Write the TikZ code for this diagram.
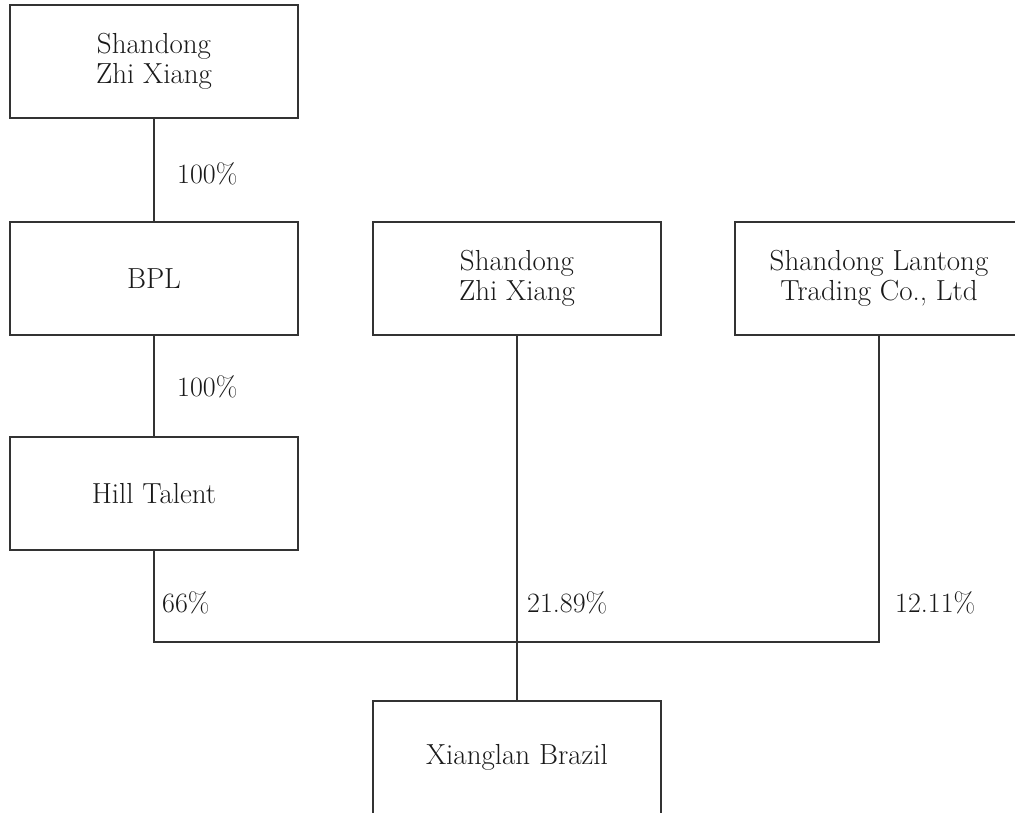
\documentclass[tikz,border=0pt]{standalone}
\usepackage{fontspec}
\begin{document}
\begin{tikzpicture}[x=1pt,y=-1pt,
  ent/.style={draw=black!80, line width=1.2pt, rectangle, minimum width=288pt, minimum height=113pt, inner sep=0pt, align=center, font=\fontsize{29}{30}\selectfont, text=black!90},
  conn/.style={draw=black!80, line width=1.2pt},
  pct/.style={anchor=west, inner sep=0pt, font=\fontsize{28}{30}\selectfont, text=black!90}]
\useasboundingbox (0,0) rectangle (1015,812);
\clip (0,0) rectangle (1015,812);
\node[ent] (sz1) at (154,61.5) {Shandong\\Zhi Xiang};
\node[ent] (bpl) at (154,278.5) {BPL};
\node[ent] (hill) at (154,493.5) {Hill Talent};
\node[ent] (sz2) at (517,278.5) {Shandong\\Zhi Xiang};
\node[ent] (lan) at (879,278.5) {Shandong Lantong\\Trading Co., Ltd};
\node[ent] (xb) at (517,757.5) {Xianglan Brazil};
\coordinate (jl) at (154,642);
\coordinate (jr) at (879,642);
\draw[conn] (sz1.south) -- (bpl.north);
\draw[conn] (bpl.south) -- (hill.north);
\draw[conn] (hill.south) -- (jl) -- (jr) -- (lan.south);
\draw[conn] (sz2.south) -- (xb.north);
\node[pct] (p1) at (177,174) {100\%};
\node[pct] (p2) at (177,387) {100\%};
\node[pct] (p3) at (162,603) {66\%};
\node[pct] (p4) at (527,603) {21.89\%};
\node[pct] (p5) at (895,603) {12.11\%};
\end{tikzpicture}
\end{document}
